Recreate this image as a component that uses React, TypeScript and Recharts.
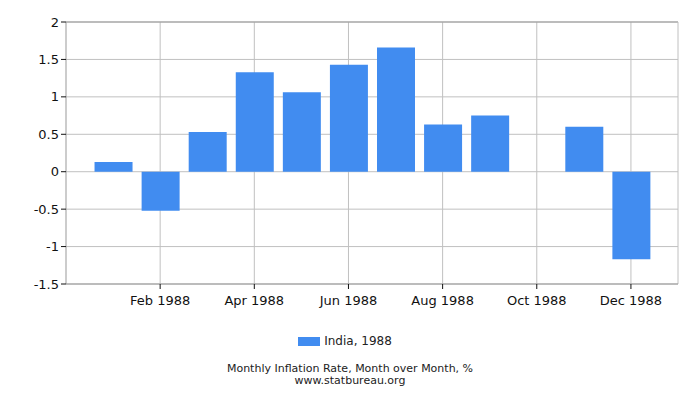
import { Bar, BarChart, CartesianGrid, Legend, ReferenceLine, XAxis, YAxis } from "recharts";

const months = ["Jan", "Feb", "Mar", "Apr", "May", "Jun", "Jul", "Aug", "Sep", "Oct", "Nov", "Dec"];
const monthIndex = [1, 2, 3, 4, 5, 6, 7, 8, 9, 10, 11, 12];
const inflation = [0.13, -0.52, 0.53, 1.33, 1.06, 1.43, 1.66, 0.63, 0.75, 0, 0.6, -1.17];
const xTicks = [2, 4, 6, 8, 10, 12];
const yTicks = [-1.5, -1, -0.5, 0, 0.5, 1, 1.5, 2];

const data = monthIndex.map((m, i) => ({ m, value: inflation[i] }));

const font = "'DejaVu Sans', Verdana, sans-serif";

const LegendBox = () => (
   <div style={{ display: "flex", justifyContent: "center", alignItems: "center", height: 20, fontFamily: font, fontSize: 12, color: "#222", paddingLeft: 12 }}>
      <span style={{ display: "inline-block", width: 22, height: 9, background: "#418cf0", marginRight: 4 }} />
      <span>India, 1988</span>
   </div>
);

export default function App() {
   return (
      <div style={{ position: "absolute", left: 0, top: 0, width: 700, height: 400, background: "#fff" }}>
         <BarChart
            width={700}
            height={400}
            data={data}
            margin={{ top: 22, right: 22, left: 0, bottom: 66 }}
         >
            <CartesianGrid stroke="#c0c0c0" horizontalValues={yTicks} verticalValues={xTicks} />
            <XAxis
               dataKey="m"
               type="number"
               domain={[0, 13]}
               ticks={xTicks}
               tickFormatter={(v: number) => `${months[v - 1]} 1988`}
               height={30}
               stroke="#555"
               tickSize={5}
               tick={{ fill: "#111", fontSize: 13, fontFamily: font, dy: 5 }}
               axisLine={{ stroke: "#999" }}
               tickLine={{ stroke: "#111" }}
            />
            <YAxis
               type="number"
               domain={[-1.5, 2]}
               ticks={yTicks}
               width={66}
               tickSize={5}
               tick={{ fill: "#111", fontSize: 13, fontFamily: font }}
               axisLine={{ stroke: "#999" }}
               tickLine={{ stroke: "#111" }}
            />
            <ReferenceLine y={2} stroke="#999" />
            <ReferenceLine x={13} stroke="#c0c0c0" />
            <Legend verticalAlign="bottom" content={<LegendBox />} wrapperStyle={{ bottom: 49, height: 20 }} />
            <Bar dataKey="value" name="India, 1988" fill="#418cf0" barSize={38} isAnimationActive={false} />
         </BarChart>
         <div style={{ position: "absolute", left: 0, top: 363, width: 700, textAlign: "center", fontFamily: font, fontSize: 11, lineHeight: "12px", color: "#222" }}>
            <div>Monthly Inflation Rate, Month over Month, %</div>
            <div>www.statbureau.org</div>
         </div>
      </div>
   );
}
